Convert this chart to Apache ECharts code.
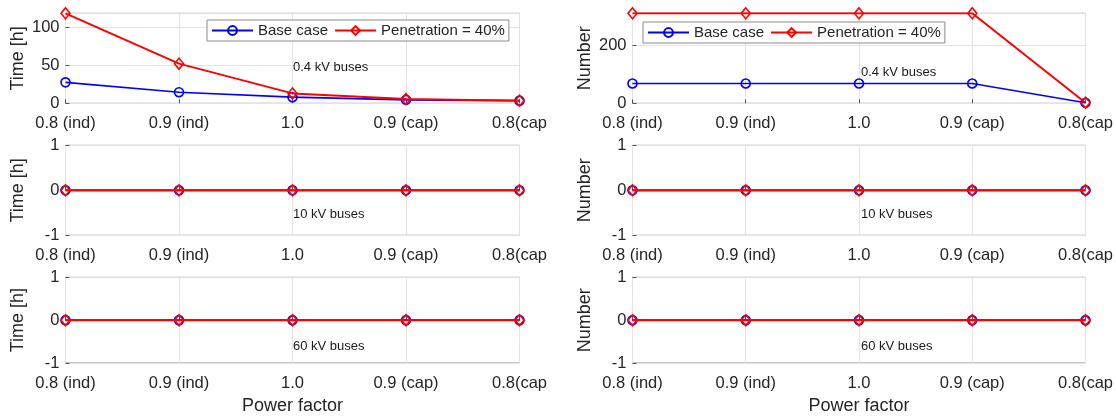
<!DOCTYPE html>
<html>
<head>
<meta charset="utf-8">
<script src="https://cdn.jsdelivr.net/npm/echarts@6/dist/echarts.min.js"></script>
<style>
html,body{margin:0;padding:0;background:#fff;}
#chart{width:1116px;height:416px;}
</style>
</head>
<body>
<div id="chart"></div>
<script>
// ---- data ----
var categories = ['0.8 (ind)', '0.9 (ind)', '1.0', '0.9 (cap)', '0.8(cap'];
var seriesNames = ['Base case', 'Penetration = 40%'];
// Time [h]
var time04Base = [27.5, 14.5, 8, 4.5, 3.5];
var time04Pen  = [118, 52, 13, 5.5, 3.5];
var time10Base = [0, 0, 0, 0, 0];
var time10Pen  = [0, 0, 0, 0, 0];
var time60Base = [0, 0, 0, 0, 0];
var time60Pen  = [0, 0, 0, 0, 0];
// Number
var num04Base = [68, 68, 68, 68, 2];
var num04Pen  = [309, 309, 309, 309, 2];
var num10Base = [0, 0, 0, 0, 0];
var num10Pen  = [0, 0, 0, 0, 0];
var num60Base = [0, 0, 0, 0, 0];
var num60Pen  = [0, 0, 0, 0, 0];
var panelTexts = ['0.4 kV buses', '10 kV buses', '60 kV buses'];
var yNames = ['Time [h]', 'Number'];
var xName = 'Power factor';

// ---- layout ----
var FONT = 'Liberation Sans, Arial, Helvetica, sans-serif';
var TXT = '#262626';
var colLeft = [65.5, 632.5];
var colWidth = 454;
var rowTop = [13.3, 145.3, 277.3];
var rowHeight = 90;

var panels = [
  {col:0,row:0,base:time04Base,pen:time04Pen,tight:true,interval:50},
  {col:1,row:0,base:num04Base,pen:num04Pen,tight:true,interval:200},
  {col:0,row:1,base:time10Base,pen:time10Pen},
  {col:1,row:1,base:num10Base,pen:num10Pen},
  {col:0,row:2,base:time60Base,pen:time60Pen},
  {col:1,row:2,base:num60Base,pen:num60Pen}
];

var grids = [], xAxes = [], yAxes = [], series = [], graphics = [];
panels.forEach(function(p, i){
  grids.push({left: colLeft[p.col], top: rowTop[p.row], width: colWidth, height: rowHeight,
    show: true, borderColor: '#8a8a8a', borderWidth: 1, backgroundColor: '#fff'});
  xAxes.push({
    type: 'category', gridIndex: i, data: categories, boundaryGap: false,
    axisLine: {show: false},
    axisTick: {show: true, inside: true, length: 4, lineStyle: {color: '#555'}},
    axisLabel: {fontFamily: FONT, fontSize: 16.5, color: TXT, margin: 12, interval: 0},
    splitLine: {show: true, lineStyle: {color: '#e3e3e3', width: 1}},
    name: p.row === 2 ? xName : '',
    nameLocation: 'middle', nameGap: 34,
    nameTextStyle: {fontFamily: FONT, fontSize: 18, color: TXT}
  });
  var y = {
    type: 'value', gridIndex: i,
    axisLine: {show: false},
    axisTick: {show: true, inside: true, length: 4, lineStyle: {color: '#555'}},
    axisLabel: {fontFamily: FONT, fontSize: 16.5, color: TXT, margin: 6},
    splitLine: {show: true, lineStyle: {color: '#e3e3e3', width: 1}},
    name: yNames[p.col], nameLocation: 'middle', nameGap: 38,
    nameTextStyle: {fontFamily: FONT, fontSize: 18, color: TXT}
  };
  if (p.tight) {
    y.min = 0;
    y.max = function(v){ return v.max; };
    y.interval = p.interval;
    y.axisLabel.showMaxLabel = false;
  } else {
    y.min = -1; y.max = 1; y.interval = 1;
  }
  yAxes.push(y);
  series.push({
    name: seriesNames[0], type: 'line', xAxisIndex: i, yAxisIndex: i, data: p.base,
    symbol: 'circle', symbolSize: 9,
    lineStyle: {color: '#0000ff', width: 1.7},
    itemStyle: {color: 'rgba(255,255,255,0)', borderColor: '#0000ff', borderWidth: 1.6},
    emphasis: {disabled: true}, animation: false, z: 3
  });
  series.push({
    name: seriesNames[1], type: 'line', xAxisIndex: i, yAxisIndex: i, data: p.pen,
    symbol: 'diamond', symbolSize: [9, 11],
    lineStyle: {color: '#ff0000', width: 2},
    itemStyle: {color: 'rgba(255,255,255,0)', borderColor: '#ff0000', borderWidth: 1.6},
    emphasis: {disabled: true}, animation: false, z: 4
  });
});

var textPos = [
  [293, 66], [861, 71], [293, 213], [861, 213], [293, 345], [861, 345]
];
panels.forEach(function(p, i){
  graphics.push({type: 'text', left: textPos[i][0], top: textPos[i][1] - 5, z: 100,
    style: {text: panelTexts[p.row], font: '13px ' + FONT, fill: '#1a1a1a'}});
});

var legendCommon = {
  data: seriesNames, orient: 'horizontal', itemWidth: 41, itemHeight: 11, itemGap: 6,
  padding: [3, 4, 3, 4], borderColor: '#8a8a8a', borderWidth: 1, backgroundColor: '#fff',
  textStyle: {fontFamily: FONT, fontSize: 15, color: TXT}, selectedMode: false
};
var legends = [
  Object.assign({}, legendCommon, {left: 207, top: 20}),
  Object.assign({}, legendCommon, {left: 643, top: 22})
];

var chart = echarts.init(document.getElementById('chart'), null, {renderer: 'canvas'});
chart.setOption({
  animation: false,
  backgroundColor: '#fff',
  grid: grids, xAxis: xAxes, yAxis: yAxes, series: series,
  legend: legends, graphic: graphics
});
</script>
</body>
</html>
